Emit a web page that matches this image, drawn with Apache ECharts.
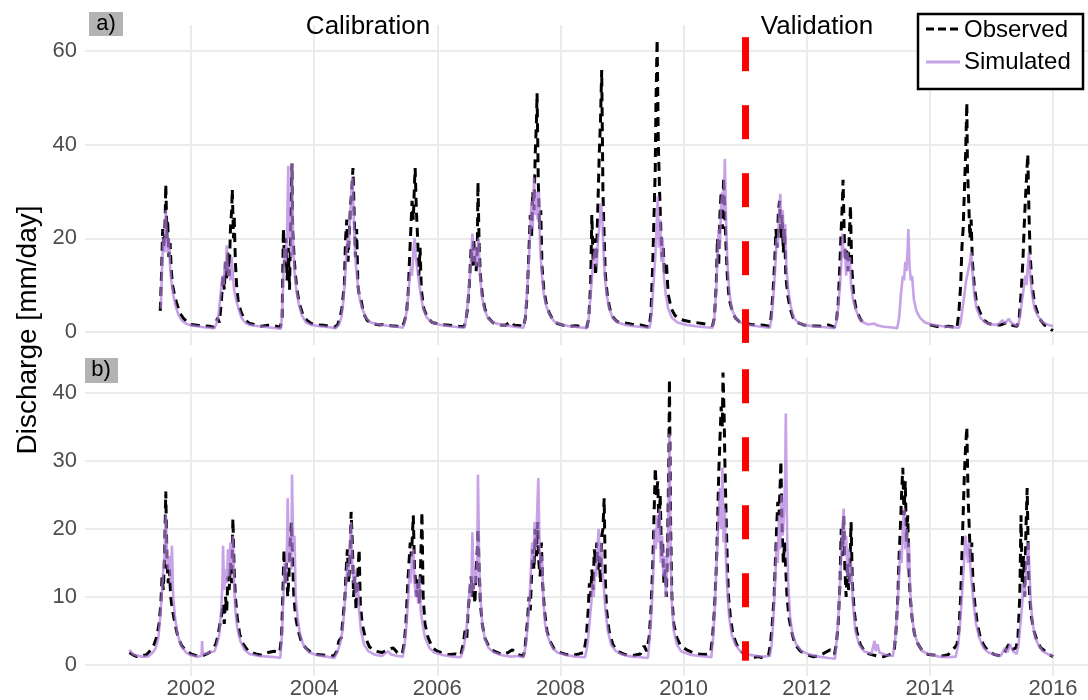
<!DOCTYPE html>
<html>
<head>
<meta charset="utf-8">
<script src="https://cdn.jsdelivr.net/npm/echarts@6/dist/echarts.min.js"></script>
<style>
html, body { margin: 0; padding: 0; background: #fff; }
#chart { width: 1088px; height: 700px; }
</style>
</head>
<body>
<div id="chart"></div>
<script>
// tick labels
var xTicks = [2002, 2004, 2006, 2008, 2010, 2012, 2014, 2016]
var yTicksA = [0, 20, 40, 60]
var yTicksB = [0, 10, 20, 30, 40]
var splitYear = 2011

// a) observed [year, mm/day]
var obsA = [
	[2001.50,4.5],[2001.52,12],[2001.54,22],[2001.56,18],[2001.58,24],[2001.59,31.5],[2001.61,20],[2001.62,24],[2001.64,16],[2001.66,19],[2001.68,13],[2001.70,10],[2001.73,8],[2001.77,6],[2001.82,4],[2001.87,3],[2001.93,2.2],[2002.0,1.6],[2002.1,1.4],[2002.2,1.3],[2002.3,1.2],[2002.36,1.0],
	[2002.40,1.5],[2002.43,3],[2002.46,2],[2002.49,6],[2002.52,12],[2002.54,9],[2002.56,15],[2002.58,11],[2002.60,17],[2002.62,12],[2002.64,22],[2002.66,26],[2002.67,30.5],[2002.69,20],[2002.70,25],[2002.72,15],[2002.74,10],[2002.77,6],[2002.82,4],[2002.88,2.5],[2002.95,1.8],[2003.05,1.5],[2003.15,1.2],[2003.25,1.4],[2003.35,1.3],[2003.45,1.0],
	[2003.48,3],[2003.50,22],[2003.52,14],[2003.54,20],[2003.56,11],[2003.58,18],[2003.60,9],[2003.62,24],[2003.64,36],[2003.65,22],[2003.67,17],[2003.69,13],[2003.72,9],[2003.76,6],[2003.82,3.5],[2003.88,2.5],[2003.95,1.8],[2004.05,1.5],[2004.15,1.4],[2004.25,1.2],[2004.33,1.0],
	[2004.38,1.5],[2004.42,3],[2004.45,5],[2004.49,10],[2004.51,20],[2004.53,24],[2004.55,15],[2004.57,21],[2004.59,27],[2004.61,30],[2004.63,35],[2004.65,25],[2004.67,16],[2004.69,22],[2004.71,10],[2004.73,8],[2004.76,7],[2004.80,4],[2004.86,2.5],[2004.93,1.8],[2005.05,1.5],[2005.15,1.6],[2005.25,1.3],[2005.35,1.2],[2005.43,1.0],
	[2005.46,2],[2005.50,4],[2005.53,9],[2005.55,16],[2005.57,22],[2005.59,28],[2005.61,24],[2005.63,32],[2005.64,35],[2005.66,26],[2005.68,20],[2005.70,12],[2005.72,18],[2005.74,9],[2005.78,5],[2005.84,3],[2005.92,2],[2006.05,1.6],[2006.2,1.4],[2006.35,1.2],[2006.43,1.1],
	[2006.46,2],[2006.49,5],[2006.52,10],[2006.55,18],[2006.57,14],[2006.59,20],[2006.61,15],[2006.63,13],[2006.65,18],[2006.66,32],[2006.68,18],[2006.70,12],[2006.73,8],[2006.77,5],[2006.83,3],[2006.90,2],[2007.0,1.5],[2007.1,1.4],[2007.2,2.2],[2007.25,1.4],[2007.35,1.3],[2007.40,1.0],
	[2007.43,3],[2007.46,8],[2007.49,18],[2007.51,25],[2007.53,20],[2007.55,30],[2007.57,26],[2007.59,38],[2007.61,45],[2007.62,51],[2007.64,32],[2007.66,22],[2007.68,26],[2007.70,14],[2007.73,9],[2007.77,6],[2007.82,4],[2007.88,2.5],[2007.95,1.8],[2008.05,1.4],[2008.15,1.2],[2008.25,1.3],[2008.35,1.1],[2008.43,1.0],
	[2008.46,3],[2008.49,10],[2008.51,25],[2008.53,15],[2008.55,20],[2008.57,12],[2008.59,18],[2008.61,28],[2008.63,38],[2008.65,45],[2008.67,56],[2008.69,30],[2008.71,20],[2008.73,12],[2008.76,8],[2008.80,5],[2008.86,3],[2008.92,2.2],[2009.0,2],[2009.1,1.8],[2009.2,1.5],[2009.3,1.5],[2009.38,1.2],[2009.44,1.0],
	[2009.47,4],[2009.50,15],[2009.52,25],[2009.54,35],[2009.55,48],[2009.57,62.5],[2009.59,40],[2009.61,30],[2009.63,22],[2009.65,16],[2009.67,18],[2009.69,12],[2009.72,15],[2009.75,8],[2009.80,5],[2009.86,3.5],[2009.93,2.8],[2010.0,2.5],[2010.1,2.2],[2010.2,2],[2010.3,1.8],[2010.4,1.6],[2010.47,1.3],
	[2010.50,3],[2010.53,10],[2010.55,20],[2010.57,14],[2010.59,25],[2010.61,30],[2010.63,22],[2010.65,33],[2010.67,25],[2010.69,18],[2010.71,12],[2010.74,7],[2010.78,5],[2010.84,3],[2010.92,2],[2011.0,1.8],[2011.1,1.6],[2011.2,1.5],[2011.3,1.4],[2011.39,1.2],
	[2011.42,3],[2011.45,8],[2011.48,15],[2011.50,22],[2011.52,18],[2011.54,26],[2011.56,28],[2011.58,20],[2011.60,25],[2011.62,17],[2011.64,22],[2011.66,12],[2011.69,8],[2011.73,5],[2011.78,3],[2011.85,2],[2011.95,1.5],[2012.1,1.3],[2012.25,1.2],[2012.35,1.5],[2012.45,1.0],
	[2012.48,2],[2012.51,6],[2012.54,15],[2012.56,22],[2012.58,28],[2012.59,32.5],[2012.61,20],[2012.63,15],[2012.65,18],[2012.67,13],[2012.69,20],[2012.71,27],[2012.73,14],[2012.76,8],[2012.80,5],[2012.86,3],[2012.90,2.2],[2012.91,'-'],
	[2013.98,'-'],[2014.0,1.5],[2014.1,1.2],[2014.2,1.0],[2014.3,1.2],[2014.4,1.0],[2014.44,0.8],[2014.47,4],[2014.50,10],[2014.52,18],[2014.54,22],[2014.56,30],[2014.58,38],[2014.60,49],[2014.61,35],[2014.63,28],[2014.65,20],[2014.67,24],[2014.69,15],[2014.72,10],[2014.76,6],[2014.82,4],[2014.88,2.5],[2014.95,1.8],[2015.05,1.5],[2015.15,1.5],[2015.25,2],[2015.30,1.6],[2015.37,1.3],[2015.42,1.2],
	[2015.45,3],[2015.48,8],[2015.51,15],[2015.53,22],[2015.55,28],[2015.57,33],[2015.59,38],[2015.61,25],[2015.63,16],[2015.66,10],[2015.70,6],[2015.75,4],[2015.80,2.5],[2015.86,1.5],[2015.92,1],[2015.97,0.5],[2016.0,0.3]
]

// a) simulated
var simA = [
	[2001.51,5],[2001.53,14],[2001.55,20],[2001.57,17],[2001.59,26],[2001.60,22],[2001.62,17],[2001.64,20],[2001.66,14],[2001.68,11],[2001.71,8],[2001.75,5.5],[2001.80,3.5],[2001.86,2.3],[2001.93,1.7],[2002.0,1.4],[2002.1,1.2],[2002.2,1.0],[2002.3,0.9],[2002.38,0.8],
	[2002.42,2],[2002.45,4],[2002.48,8],[2002.51,12],[2002.53,10],[2002.55,15],[2002.57,13],[2002.58,18.5],[2002.60,12],[2002.62,14],[2002.64,11],[2002.66,16],[2002.68,12],[2002.70,9],[2002.73,7],[2002.77,5],[2002.82,3],[2002.88,2],[2002.95,1.5],[2003.1,1.2],[2003.25,1.0],[2003.38,0.8],[2003.46,0.7],
	[2003.48,4],[2003.50,12],[2003.52,18],[2003.54,15],[2003.56,22],[2003.58,35.5],[2003.59,20],[2003.61,25],[2003.63,16],[2003.64,36],[2003.66,18],[2003.68,13],[2003.71,9],[2003.75,6],[2003.80,3.5],[2003.87,2],[2003.95,1.5],[2004.1,1.2],[2004.25,1.0],[2004.35,0.8],
	[2004.40,1.5],[2004.44,3],[2004.47,6],[2004.50,11],[2004.52,16],[2004.54,20],[2004.56,18],[2004.58,24],[2004.60,28],[2004.62,33],[2004.64,26],[2004.66,18],[2004.68,14],[2004.71,10],[2004.74,7],[2004.78,5],[2004.84,3],[2004.92,2],[2005.05,1.6],[2005.2,1.3],[2005.35,1.1],[2005.44,0.9],
	[2005.47,2],[2005.51,5],[2005.54,10],[2005.57,14],[2005.59,12],[2005.61,17],[2005.63,20],[2005.65,16],[2005.67,14],[2005.70,11],[2005.73,8],[2005.77,5],[2005.83,3],[2005.92,2],[2006.05,1.5],[2006.2,1.2],[2006.35,1.0],[2006.44,0.9],
	[2006.47,3],[2006.50,7],[2006.53,12],[2006.55,16],[2006.57,21],[2006.59,15],[2006.61,18],[2006.63,14],[2006.65,17],[2006.67,20],[2006.69,13],[2006.72,8],[2006.76,5],[2006.82,3],[2006.90,2],[2007.05,1.5],[2007.2,1.2],[2007.32,1.0],[2007.40,0.9],
	[2007.43,3],[2007.46,9],[2007.49,16],[2007.51,22],[2007.53,28],[2007.55,22],[2007.57,33],[2007.59,25],[2007.61,30],[2007.63,24],[2007.65,30],[2007.67,18],[2007.70,12],[2007.73,8],[2007.77,5.5],[2007.83,3.5],[2007.90,2.2],[2008.0,1.6],[2008.15,1.2],[2008.3,1.0],[2008.43,0.8],
	[2008.46,3],[2008.49,8],[2008.52,13],[2008.54,16],[2008.57,18],[2008.59,14],[2008.61,20],[2008.63,22],[2008.66,27.5],[2008.68,24],[2008.70,17],[2008.72,12],[2008.75,8],[2008.79,5],[2008.85,3],[2008.93,2],[2009.05,1.5],[2009.2,1.2],[2009.35,1.0],[2009.45,0.9],
	[2009.48,4],[2009.51,10],[2009.54,16],[2009.56,22],[2009.58,29],[2009.60,18],[2009.62,24],[2009.64,15],[2009.66,20],[2009.68,12],[2009.71,8],[2009.75,5],[2009.81,3],[2009.90,2],[2010.05,1.5],[2010.2,1.2],[2010.35,1.0],[2010.47,0.9],
	[2010.50,3],[2010.53,9],[2010.55,16],[2010.57,22],[2010.59,18],[2010.61,27],[2010.63,30],[2010.65,26],[2010.67,37],[2010.69,24],[2010.71,15],[2010.74,9],[2010.78,5],[2010.84,3],[2010.92,2],[2011.05,1.5],[2011.2,1.2],[2011.32,1.0],[2011.40,0.9],
	[2011.43,3],[2011.46,8],[2011.49,14],[2011.51,20],[2011.53,18],[2011.55,25],[2011.57,29.5],[2011.59,22],[2011.61,26],[2011.63,19],[2011.65,23],[2011.67,14],[2011.70,9],[2011.74,5.5],[2011.79,3],[2011.86,2],[2011.95,1.5],[2012.1,1.2],[2012.3,1.0],[2012.45,0.8],
	[2012.48,2],[2012.51,5],[2012.54,10],[2012.56,14],[2012.58,21],[2012.60,16],[2012.62,18],[2012.64,12],[2012.66,17],[2012.68,13],[2012.70,16],[2012.72,10],[2012.75,7],[2012.79,5],[2012.85,3],[2012.92,2],[2013.0,1.6],[2013.1,1.8],[2013.14,1.4],[2013.25,1.1],[2013.35,1.0],[2013.47,0.8],
	[2013.50,3],[2013.53,8],[2013.56,12],[2013.58,11],[2013.60,15],[2013.62,13],[2013.64,18],[2013.65,22],[2013.67,14],[2013.69,11],[2013.71,12],[2013.74,7],[2013.78,4.5],[2013.84,3],[2013.92,2],[2014.05,1.5],[2014.2,1.2],[2014.35,1.0],[2014.47,0.9],
	[2014.50,2],[2014.53,5],[2014.56,8],[2014.59,11],[2014.62,13],[2014.65,15],[2014.67,17],[2014.69,13],[2014.72,8],[2014.76,5],[2014.82,3],[2014.90,2],[2015.0,1.6],[2015.1,1.5],[2015.18,2.5],[2015.22,1.8],[2015.28,2.8],[2015.32,2],[2015.38,1.5],[2015.43,1.3],
	[2015.46,3],[2015.49,6],[2015.52,9],[2015.55,12],[2015.57,10],[2015.59,14],[2015.61,17],[2015.63,12],[2015.66,8],[2015.70,5],[2015.75,3.5],[2015.82,2.2],[2015.90,1.6],[2016.0,1.2]
]

// b) observed
var obsB = [
	[2001.0,1.8],[2001.05,1.5],[2001.12,1.2],[2001.2,1.3],[2001.28,1.5],[2001.35,2.2],[2001.40,3],[2001.44,4],[2001.48,6],[2001.51,9],[2001.53,13],[2001.55,11],[2001.57,16],[2001.59,25.5],[2001.61,15],[2001.63,12],[2001.65,14],[2001.67,10],[2001.70,8],[2001.74,6],[2001.79,4],[2001.85,2.8],[2001.92,2],[2002.0,1.6],[2002.1,1.3],[2002.2,1.4],[2002.3,1.8],[2002.36,2.5],
	[2002.40,3],[2002.43,4],[2002.46,5.5],[2002.49,7],[2002.52,9],[2002.54,6],[2002.56,10],[2002.58,8],[2002.60,13],[2002.62,11],[2002.64,15],[2002.66,12],[2002.68,21.5],[2002.70,14],[2002.72,10],[2002.75,7],[2002.79,4.5],[2002.85,3],[2002.93,2],[2003.05,1.6],[2003.15,1.4],[2003.25,1.8],[2003.35,2],[2003.44,1.8],
	[2003.47,4],[2003.49,10],[2003.51,17],[2003.53,12],[2003.55,15],[2003.57,10],[2003.59,13],[2003.61,18],[2003.63,21],[2003.65,15],[2003.67,10],[2003.70,7],[2003.74,5],[2003.79,3.5],[2003.86,2.5],[2003.95,1.8],[2004.05,1.5],[2004.2,1.4],[2004.32,1.3],
	[2004.37,2],[2004.40,3.5],[2004.44,4],[2004.47,7],[2004.50,10],[2004.52,14],[2004.54,17],[2004.56,12],[2004.58,15],[2004.60,22.5],[2004.62,18],[2004.64,10],[2004.66,13],[2004.68,8],[2004.70,12],[2004.73,17],[2004.75,9],[2004.78,6],[2004.83,4],[2004.90,2.6],[2005.0,2],[2005.1,1.8],[2005.2,2.2],[2005.28,2.5],[2005.35,1.8],[2005.43,1.6],
	[2005.46,3],[2005.49,6],[2005.52,12],[2005.54,15],[2005.56,18],[2005.58,16],[2005.60,20],[2005.61,22],[2005.63,14],[2005.65,12],[2005.67,10],[2005.69,13],[2005.71,9],[2005.73,15],[2005.75,22.5],[2005.77,10],[2005.80,6],[2005.85,4],[2005.92,2.5],[2006.0,2],[2006.1,1.7],[2006.2,1.5],[2006.3,1.6],[2006.38,1.4],
	[2006.42,3],[2006.45,5],[2006.48,4],[2006.50,8],[2006.53,11],[2006.55,13],[2006.57,10],[2006.59,12],[2006.61,9],[2006.63,14],[2006.65,17],[2006.66,20],[2006.68,14],[2006.70,9],[2006.73,6],[2006.77,4],[2006.83,2.8],[2006.92,2],[2007.05,1.5],[2007.15,1.8],[2007.22,2.2],[2007.3,1.5],[2007.40,1.3],
	[2007.43,3],[2007.46,6],[2007.49,10],[2007.51,8],[2007.53,13],[2007.55,17],[2007.57,14],[2007.59,20],[2007.61,16],[2007.63,21],[2007.65,15],[2007.67,13],[2007.69,18],[2007.71,12],[2007.74,8],[2007.78,5],[2007.83,3.5],[2007.90,2.3],[2008.0,1.8],[2008.1,1.5],[2008.2,1.4],[2008.3,1.6],[2008.38,1.8],
	[2008.42,4],[2008.45,8],[2008.47,12],[2008.49,10],[2008.51,14],[2008.53,11],[2008.55,17],[2008.57,15],[2008.59,18],[2008.61,14],[2008.63,16],[2008.65,12],[2008.67,19],[2008.69,20],[2008.71,24.5],[2008.73,12],[2008.75,8],[2008.79,5],[2008.85,3],[2008.92,2],[2009.05,1.5],[2009.2,1.4],[2009.3,1.6],[2009.36,2.8],[2009.40,2],
	[2009.44,4],[2009.47,8],[2009.50,15],[2009.52,22],[2009.54,29],[2009.56,25],[2009.58,27],[2009.60,20],[2009.62,25],[2009.64,16],[2009.66,18],[2009.68,12],[2009.70,14],[2009.72,10],[2009.74,18],[2009.76,30],[2009.77,42],[2009.79,20],[2009.81,10],[2009.84,6],[2009.89,4],[2009.95,2.8],[2010.05,2.2],[2010.15,1.8],[2010.25,1.6],[2010.35,1.5],[2010.44,1.8],
	[2010.47,4],[2010.50,8],[2010.53,14],[2010.55,20],[2010.57,28],[2010.59,33],[2010.61,38],[2010.63,35],[2010.64,43],[2010.66,36],[2010.67,30],[2010.69,22],[2010.71,15],[2010.73,10],[2010.76,7],[2010.80,4.5],[2010.86,3],[2010.93,2],[2011.0,1.5],[2011.1,1.0],[2011.2,1.2],[2011.3,1.0],[2011.38,1.4],
	[2011.41,3],[2011.44,6],[2011.47,10],[2011.49,15],[2011.51,20],[2011.53,24],[2011.55,22],[2011.57,27],[2011.58,30],[2011.60,20],[2011.62,15],[2011.64,18],[2011.66,14],[2011.68,10],[2011.71,7],[2011.75,5],[2011.81,3],[2011.90,2],[2012.0,1.5],[2012.1,1.2],[2012.2,1.3],[2012.3,1.8],[2012.38,2.2],[2012.45,1.5],
	[2012.48,3],[2012.51,6],[2012.54,12],[2012.56,20],[2012.58,16],[2012.60,22],[2012.62,14],[2012.64,10],[2012.66,15],[2012.68,11],[2012.70,14],[2012.72,21],[2012.74,12],[2012.77,8],[2012.81,5],[2012.87,3],[2012.95,1.8],[2013.05,1.5],[2013.15,1.3],[2013.25,1.2],[2013.35,1.5],[2013.42,2],
	[2013.45,5],[2013.48,10],[2013.50,16],[2013.52,20],[2013.54,25],[2013.56,29],[2013.58,22],[2013.60,27],[2013.62,18],[2013.64,22],[2013.66,14],[2013.68,10],[2013.71,7],[2013.75,4.5],[2013.81,3],[2013.88,2],[2013.98,1.5],[2014.1,1.4],[2014.2,1.3],[2014.3,1.5],[2014.4,2.5],[2014.44,3],
	[2014.47,5],[2014.50,10],[2014.52,16],[2014.54,22],[2014.56,28],[2014.58,32],[2014.60,35],[2014.62,25],[2014.64,20],[2014.66,15],[2014.68,18],[2014.70,12],[2014.73,9],[2014.77,6],[2014.82,4],[2014.88,2.8],[2014.95,2],[2015.05,1.5],[2015.15,1.3],[2015.22,2],[2015.28,3],[2015.33,2.2],[2015.40,2.5],
	[2015.43,4],[2015.46,10],[2015.48,22],[2015.50,12],[2015.52,16],[2015.54,10],[2015.56,20],[2015.58,26],[2015.60,15],[2015.62,10],[2015.65,7],[2015.69,5],[2015.74,3.5],[2015.80,2.5],[2015.87,2],[2015.94,1.5],[2016.0,1.2]
]

// b) simulated
var simB = [
	[2001.0,2.2],[2001.05,1.6],[2001.1,1.4],[2001.2,1.2],[2001.3,1.2],[2001.38,1.8],[2001.43,2.5],[2001.47,4],[2001.50,7],[2001.53,11],[2001.55,14],[2001.57,16],[2001.59,22],[2001.61,16],[2001.63,14],[2001.65,16],[2001.67,12],[2001.69,17.5],[2001.71,10],[2001.74,7],[2001.78,4.5],[2001.84,2.8],[2001.92,1.8],[2002.0,1.4],[2002.1,1.2],[2002.17,1.3],[2002.18,3.5],[2002.19,1.5],[2002.3,1.8],[2002.38,2],
	[2002.42,3],[2002.46,4.5],[2002.49,8],[2002.51,12],[2002.52,17.5],[2002.54,11],[2002.56,14],[2002.58,12],[2002.60,17],[2002.62,13],[2002.64,18],[2002.66,14],[2002.68,19],[2002.70,12],[2002.72,8],[2002.75,5.5],[2002.80,3.5],[2002.87,2.2],[2002.95,1.6],[2003.1,1.3],[2003.25,1.2],[2003.38,1.1],[2003.45,1.0],
	[2003.48,5],[2003.50,10],[2003.52,15],[2003.54,12],[2003.56,18],[2003.57,24.5],[2003.59,15],[2003.61,19],[2003.63,14],[2003.64,28],[2003.66,17],[2003.68,19],[2003.70,10],[2003.73,7],[2003.77,4.5],[2003.83,2.8],[2003.92,1.8],[2004.05,1.4],[2004.2,1.2],[2004.33,1.0],
	[2004.38,2],[2004.42,3],[2004.46,5],[2004.49,8],[2004.52,12],[2004.54,15],[2004.56,13],[2004.58,17],[2004.60,21],[2004.62,15],[2004.64,12],[2004.66,14],[2004.68,10],[2004.71,12],[2004.73,8],[2004.76,5],[2004.81,3],[2004.88,2],[2004.98,1.5],[2005.1,1.3],[2005.2,2],[2005.25,1.5],[2005.35,1.3],[2005.44,1.2],
	[2005.47,3],[2005.50,6],[2005.53,10],[2005.55,14],[2005.57,12],[2005.59,16],[2005.61,17],[2005.63,12],[2005.65,10],[2005.67,12],[2005.69,9],[2005.71,13],[2005.73,8],[2005.76,6],[2005.80,4],[2005.87,2.5],[2005.95,1.8],[2006.1,1.4],[2006.25,1.2],[2006.38,1.1],
	[2006.43,2.5],[2006.47,5],[2006.50,8],[2006.53,12],[2006.55,10],[2006.57,19.5],[2006.59,11],[2006.61,14],[2006.63,12],[2006.65,16],[2006.66,28],[2006.68,15],[2006.70,10],[2006.73,6],[2006.77,4],[2006.83,2.5],[2006.92,1.8],[2007.05,1.4],[2007.2,1.2],[2007.3,1.3],[2007.40,1.1],
	[2007.44,3],[2007.47,6],[2007.50,10],[2007.52,14],[2007.54,18],[2007.56,15],[2007.58,21],[2007.60,17],[2007.62,22],[2007.64,27.5],[2007.66,18],[2007.68,14],[2007.70,16],[2007.72,10],[2007.75,6],[2007.80,4],[2007.87,2.5],[2007.95,1.8],[2008.1,1.4],[2008.25,1.2],[2008.40,1.1],
	[2008.44,3],[2008.47,6],[2008.50,9],[2008.52,12],[2008.54,10],[2008.56,14],[2008.58,13],[2008.60,17],[2008.62,20],[2008.64,15],[2008.66,18],[2008.68,14],[2008.70,12],[2008.73,8],[2008.77,5],[2008.82,3],[2008.90,2],[2009.0,1.5],[2009.15,1.2],[2009.3,1.1],[2009.42,1.0],
	[2009.45,4],[2009.48,8],[2009.51,14],[2009.53,20],[2009.55,17],[2009.57,22],[2009.59,18],[2009.61,23],[2009.63,15],[2009.65,19],[2009.67,13],[2009.69,16],[2009.71,10],[2009.73,14],[2009.75,20],[2009.77,34],[2009.79,16],[2009.81,9],[2009.84,5],[2009.89,3],[2009.96,2],[2010.1,1.5],[2010.25,1.3],[2010.38,1.2],[2010.45,1.1],
	[2010.48,4],[2010.51,9],[2010.53,14],[2010.55,18],[2010.57,22],[2010.59,26],[2010.61,20],[2010.63,29],[2010.65,18],[2010.67,23],[2010.69,15],[2010.71,11],[2010.74,7],[2010.78,4.5],[2010.84,3],[2010.92,2],[2011.05,1.5],[2011.2,1.3],[2011.3,1.2],[2011.40,1.3],
	[2011.43,3],[2011.46,7],[2011.49,13],[2011.51,18],[2011.53,15],[2011.55,22],[2011.57,17],[2011.59,25],[2011.61,19],[2011.63,22],[2011.65,28],[2011.66,37],[2011.68,20],[2011.70,12],[2011.73,7],[2011.77,4.5],[2011.83,3],[2011.92,2],[2012.05,1.5],[2012.2,1.2],[2012.35,1.0],[2012.46,0.9],
	[2012.49,4],[2012.52,8],[2012.54,12],[2012.56,16],[2012.58,20],[2012.60,23],[2012.62,16],[2012.64,19],[2012.66,13],[2012.68,17],[2012.70,12],[2012.72,15],[2012.75,9],[2012.79,5],[2012.85,3],[2012.93,2],[2013.05,1.6],[2013.1,3.5],[2013.12,2],[2013.15,3],[2013.18,1.8],[2013.3,1.4],[2013.40,1.3],
	[2013.44,4],[2013.47,8],[2013.50,13],[2013.52,17],[2013.54,15],[2013.56,20],[2013.58,23],[2013.60,17],[2013.62,20],[2013.64,14],[2013.66,18],[2013.68,11],[2013.71,7],[2013.75,4.5],[2013.81,3],[2013.88,2],[2014.0,1.5],[2014.15,1.2],[2014.3,1.1],[2014.42,1.2],
	[2014.46,3],[2014.49,6],[2014.52,10],[2014.54,13],[2014.56,16],[2014.58,19],[2014.60,17],[2014.62,15],[2014.64,18],[2014.66,14],[2014.68,12],[2014.71,9],[2014.75,6],[2014.80,4],[2014.87,2.5],[2014.95,1.8],[2015.05,1.5],[2015.15,1.3],[2015.22,2.5],[2015.26,1.8],[2015.30,3],[2015.35,2],[2015.41,1.6],
	[2015.44,3],[2015.47,6],[2015.50,9],[2015.52,12],[2015.54,10],[2015.56,14],[2015.58,16],[2015.60,18],[2015.62,13],[2015.64,9],[2015.67,6],[2015.71,4],[2015.76,3],[2015.83,2],[2015.91,1.6],[2016.0,1.3]
]

var FONT = 'Liberation Sans, Arial, Helvetica, sans-serif'
var OBS_COLOR = '#000000'
var SIM_COLOR = 'rgba(177,123,220,0.7)'
var GRID_COLOR = '#ebebeb'

function xAxisOf(gridIndex, showLabels) {
	return {
		type: 'value', gridIndex: gridIndex,
		min: 2000.278, max: 2016.568,
		axisLine: { show: false },
		axisTick: { show: false, customValues: xTicks },
		axisLabel: {
			show: showLabels, customValues: xTicks, margin: 2,
			color: '#4d4d4d', fontSize: 22, fontFamily: FONT,
			formatter: function (v) { return String(v) }
		},
		splitLine: { show: true, lineStyle: { color: GRID_COLOR, width: 2 } }
	}
}
function yAxisOf(gridIndex, min, max, ticks) {
	return {
		type: 'value', gridIndex: gridIndex, min: min, max: max,
		axisLine: { show: false },
		axisTick: { show: false, customValues: ticks },
		axisLabel: { customValues: ticks, margin: 8, color: '#4d4d4d', fontSize: 22, fontFamily: FONT },
		splitLine: { show: true, lineStyle: { color: GRID_COLOR, width: 2 } }
	}
}
function obsSeries(idx, data) {
	return {
		name: 'Observed', type: 'line', xAxisIndex: idx, yAxisIndex: idx,
		data: data, showSymbol: false, symbol: 'none', z: 2,
		lineStyle: { color: OBS_COLOR, width: 3, type: [9, 6] }
	}
}
function simSeries(idx, data, top, bottom) {
	return {
		name: 'Simulated', type: 'line', xAxisIndex: idx, yAxisIndex: idx,
		data: data, showSymbol: false, symbol: 'none', z: 3,
		lineStyle: { color: SIM_COLOR, width: 2.6 },
		markLine: {
			silent: true, symbol: 'none', animation: false,
			label: { show: false },
			lineStyle: { color: '#ff0000', width: 7, type: [34, 34], cap: 'butt' },
			data: [[{ coord: [splitYear, top] }, { coord: [splitYear, bottom] }]]
		}
	}
}

var chart = echarts.init(document.getElementById('chart'), null, { renderer: 'canvas' })
chart.setOption({
	animation: false,
	backgroundColor: '#ffffff',
	grid: [
		{ left: 85, right: 0, top: 25, height: 320 },
		{ left: 85, right: 0, top: 357, height: 321 }
	],
	xAxis: [xAxisOf(0, false), xAxisOf(1, true)],
	yAxis: [yAxisOf(0, -2.8, 65.6, yTicksA), yAxisOf(1, -1.65, 45.3, yTicksB)],
	series: [
		obsSeries(0, obsA), simSeries(0, simA, 63, -2.35),
		obsSeries(1, obsB), simSeries(1, simB, 43.5, 0.6)
	],
	graphic: [
		// y axis title
		{ type: 'text', x: 28, y: 330, rotation: Math.PI / 2,
			style: { text: 'Discharge [mm/day]', font: '28px ' + FONT, fill: '#000', textAlign: 'center', textVerticalAlign: 'middle' } },
		// facet tags
		{ type: 'rect', shape: { x: 89, y: 12, width: 34, height: 24 }, style: { fill: '#b3b3b3' } },
		{ type: 'text', x: 106, y: 24, style: { text: 'a)', font: '22px ' + FONT, fill: '#000', textAlign: 'center', textVerticalAlign: 'middle' } },
		{ type: 'rect', shape: { x: 85, y: 358, width: 33, height: 25 }, style: { fill: '#b3b3b3' } },
		{ type: 'text', x: 101, y: 370, style: { text: 'b)', font: '22px ' + FONT, fill: '#000', textAlign: 'center', textVerticalAlign: 'middle' } },
		// period annotations
		{ type: 'text', x: 368, y: 27, z: 10, style: { text: 'Calibration', font: '26px ' + FONT, fill: '#000', textAlign: 'center', textVerticalAlign: 'middle' } },
		{ type: 'text', x: 817, y: 27, z: 10, style: { text: 'Validation', font: '26px ' + FONT, fill: '#000', textAlign: 'center', textVerticalAlign: 'middle' } },
		// legend
		{ type: 'rect', z: 10, shape: { x: 918, y: 14, width: 165, height: 75 }, style: { fill: '#fff', stroke: '#000', lineWidth: 2.5 } },
		{ type: 'line', z: 11, shape: { x1: 926, y1: 29, x2: 960, y2: 29 }, style: { stroke: OBS_COLOR, lineWidth: 3, lineDash: [8, 4] } },
		{ type: 'line', z: 11, shape: { x1: 926, y1: 62, x2: 960, y2: 62 }, style: { stroke: SIM_COLOR, lineWidth: 3 } },
		{ type: 'text', z: 11, x: 964, y: 30, style: { text: 'Observed', font: '24px ' + FONT, fill: '#000', textVerticalAlign: 'middle' } },
		{ type: 'text', z: 11, x: 964, y: 62, style: { text: 'Simulated', font: '24px ' + FONT, fill: '#000', textVerticalAlign: 'middle' } }
	]
})
</script>
</body>
</html>
